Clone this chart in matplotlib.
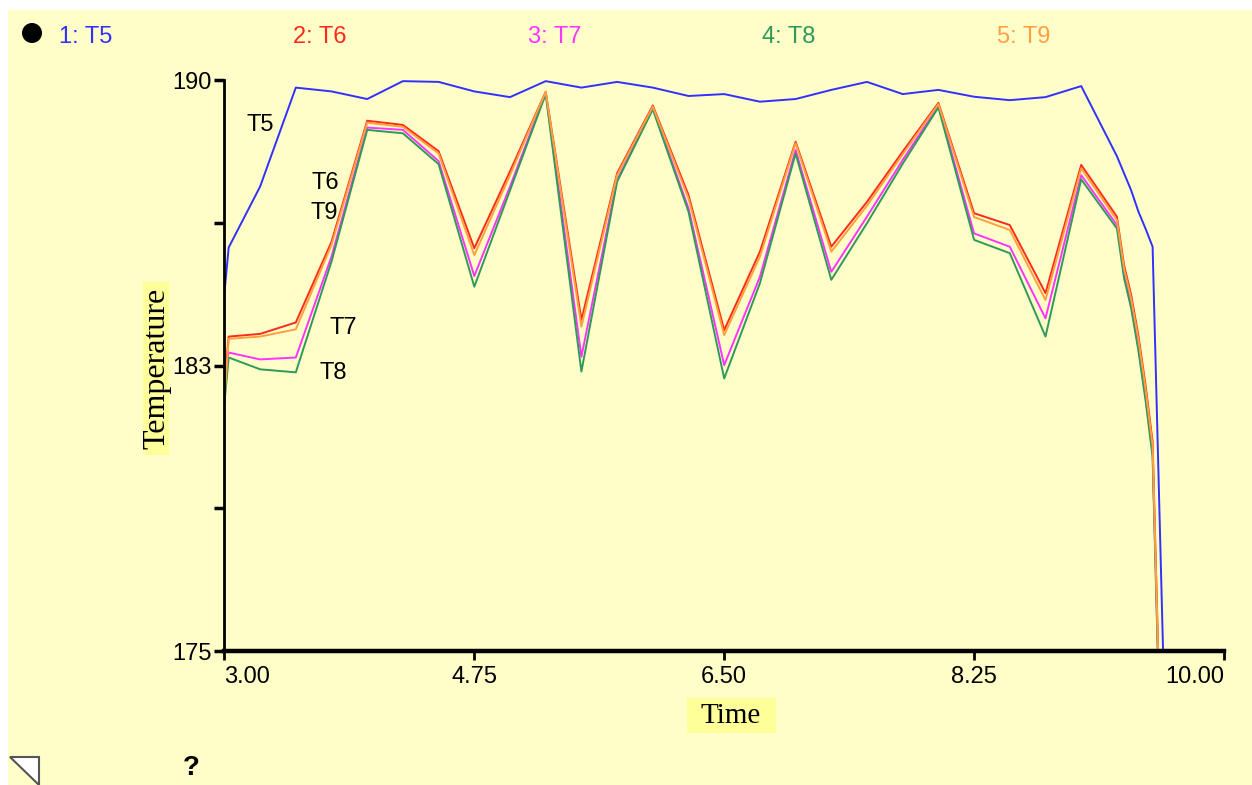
import matplotlib
matplotlib.use("Agg")
import matplotlib.pyplot as plt
from matplotlib.patches import Rectangle, Circle, Polygon

# time axis (shared by all series)
time = [3.0, 3.03, 3.25, 3.5, 3.75, 4.0, 4.25, 4.5, 4.75, 5.0, 5.25, 5.5, 5.75,
        6.0, 6.25, 6.5, 6.75, 7.0, 7.25, 7.5, 7.75, 8.0, 8.25, 8.5, 8.75,
        9.0, 9.25, 9.3, 9.35, 9.4, 9.45, 9.5, 9.75]

T5 = [184.4, 185.6, 187.2, 189.8, 189.7, 189.5, 189.97, 189.95, 189.7, 189.55, 189.97,
      189.8, 189.95, 189.8, 189.58, 189.63, 189.43, 189.5, 189.74, 189.95, 189.63,
      189.74, 189.56, 189.47, 189.55, 189.84, 188.0, 187.55, 187.1, 186.55, 186.1,
      185.62, 149.4]
T6 = [182.0, 183.26, 183.33, 183.63, 185.75, 188.93, 188.82, 188.13, 185.58, 187.6,
      189.69, 183.7, 187.55, 189.33, 186.98, 183.43, 185.49, 188.38, 185.62, 186.8,
      188.12, 189.4, 186.5, 186.19, 184.4, 187.77, 186.41, 185.14, 184.35, 183.3,
      182.0, 180.5, 145.0]
T7 = [182.2, 182.84, 182.66, 182.71, 185.36, 188.75, 188.69, 187.87, 184.85, 187.2,
      189.66, 182.73, 187.37, 189.26, 186.63, 182.51, 184.83, 188.16, 184.96, 186.41,
      187.9, 189.32, 185.97, 185.62, 183.74, 187.5, 186.19, 184.9, 184.1, 183.0,
      181.7, 180.2, 144.8]
T8 = [181.5, 182.71, 182.4, 182.32, 185.23, 188.69, 188.6, 187.79, 184.57, 187.1,
      189.63, 182.34, 187.33, 189.23, 186.54, 182.16, 184.66, 188.07, 184.75, 186.24,
      187.8, 189.28, 185.8, 185.45, 183.26, 187.39, 186.1, 184.8, 184.0, 182.9,
      181.6, 180.1, 144.7]
T9 = [181.6, 183.2, 183.26, 183.45, 185.67, 188.88, 188.77, 188.07, 185.4, 187.5,
      189.69, 183.52, 187.5, 189.3, 186.89, 183.3, 185.36, 188.34, 185.49, 186.7,
      188.05, 189.37, 186.4, 186.06, 184.22, 187.68, 186.32, 185.05, 184.25, 183.2,
      181.9, 180.4, 145.0]

names = ["T5", "T6", "T7", "T8", "T9"]
colors = ["#3030ff", "#ff2a1a", "#ff33ff", "#2e9a5a", "#ffa040"]

xticks = [3.0, 4.75, 6.5, 8.25, 10.0]
xticklabels = ["3.00", "4.75", "6.50", "8.25", "10.00"]
yticks = [175, 178.75, 182.5, 186.25, 190]
yticklabels = ["175", "", "183", "", "190"]

# inline labels: (text, time, value)
inline = [("T5", 3.25, 188.82), ("T6", 3.71, 187.29), ("T9", 3.70, 186.5),
          ("T7", 3.83, 183.49), ("T8", 3.76, 182.3)]

sans = ["Liberation Sans Narrow", "Liberation Sans", "DejaVu Sans"]
serif = ["Liberation Serif", "DejaVu Serif"]
bg = "#fffdc8"
hl = "#ffff99"

W, H = 1252, 785
fig = plt.figure(figsize=(W / 100, H / 100), dpi=100, facecolor="white")

# full-figure overlay in pixel coordinates for the window decorations
ov = fig.add_axes([0, 0, 1, 1], zorder=0)
ov.set_xlim(0, W)
ov.set_ylim(H, 0)
ov.axis("off")
ov.add_patch(Rectangle((8, 10), W - 8, H - 10, facecolor=bg, edgecolor="none"))
ov.add_patch(Circle((32, 33), 10, facecolor="black", edgecolor="none"))
ov.add_patch(Polygon([(10, 757), (39, 757), (39, 785)], closed=True,
                     facecolor="white", edgecolor="#555555", lw=1.5))
ov.text(191, 768, "?", fontsize=20, fontweight="bold", family=sans,
        ha="center", va="center", color="black")

label_x = [85.5, 320, 554.5, 789, 1023.5]
for i, (n, c) in enumerate(zip(names, colors)):
    ov.text(label_x[i], 37, f"{i + 1}: {n}", color=c, fontsize=17, family=sans,
            ha="center", va="center")

# axis title boxes
ov.add_patch(Rectangle((143, 282), 26, 173, facecolor=hl, edgecolor="none"))
ov.text(157, 368, "Temperature", rotation=90, fontsize=23, family=serif,
        ha="center", va="center", color="black")
ov.add_patch(Rectangle((687, 698), 89, 35, facecolor=hl, edgecolor="none"))
ov.text(731, 716, "Time", fontsize=21, family=serif, ha="center", va="center",
        color="black")

ax = fig.add_axes([224.4 / W, 134 / H, 999.6 / W, 571 / H], zorder=2)
ax.set_facecolor("none")

for n, c, vals in zip(names, colors, [T5, T6, T7, T8, T9]):
    ax.plot(time, vals, color=c, lw=1.4)

for txt, tx, ty in inline:
    ax.text(tx, ty, txt, fontsize=17, family=sans, ha="center", va="center",
            color="black")

ax.set_xlim(3, 10)
ax.set_ylim(175, 190)
for s in ["top", "right"]:
    ax.spines[s].set_visible(False)
ax.spines["left"].set_linewidth(2.0)
ax.spines["bottom"].set_linewidth(3.2)

ax.set_xticks(xticks)
ax.set_xticklabels(xticklabels, family=sans, fontsize=17)
ax.set_yticks(yticks)
ax.set_yticklabels(yticklabels, family=sans, fontsize=17)
ax.tick_params(axis="x", length=6.5, width=2, pad=4)
ax.tick_params(axis="y", length=7, width=2.5, pad=2)
xl = ax.get_xticklabels()
xl[0].set_ha("left")
xl[0].set_x(2.97)
xl[-1].set_ha("right")

fig.savefig("out.png", dpi=100, facecolor="white")
